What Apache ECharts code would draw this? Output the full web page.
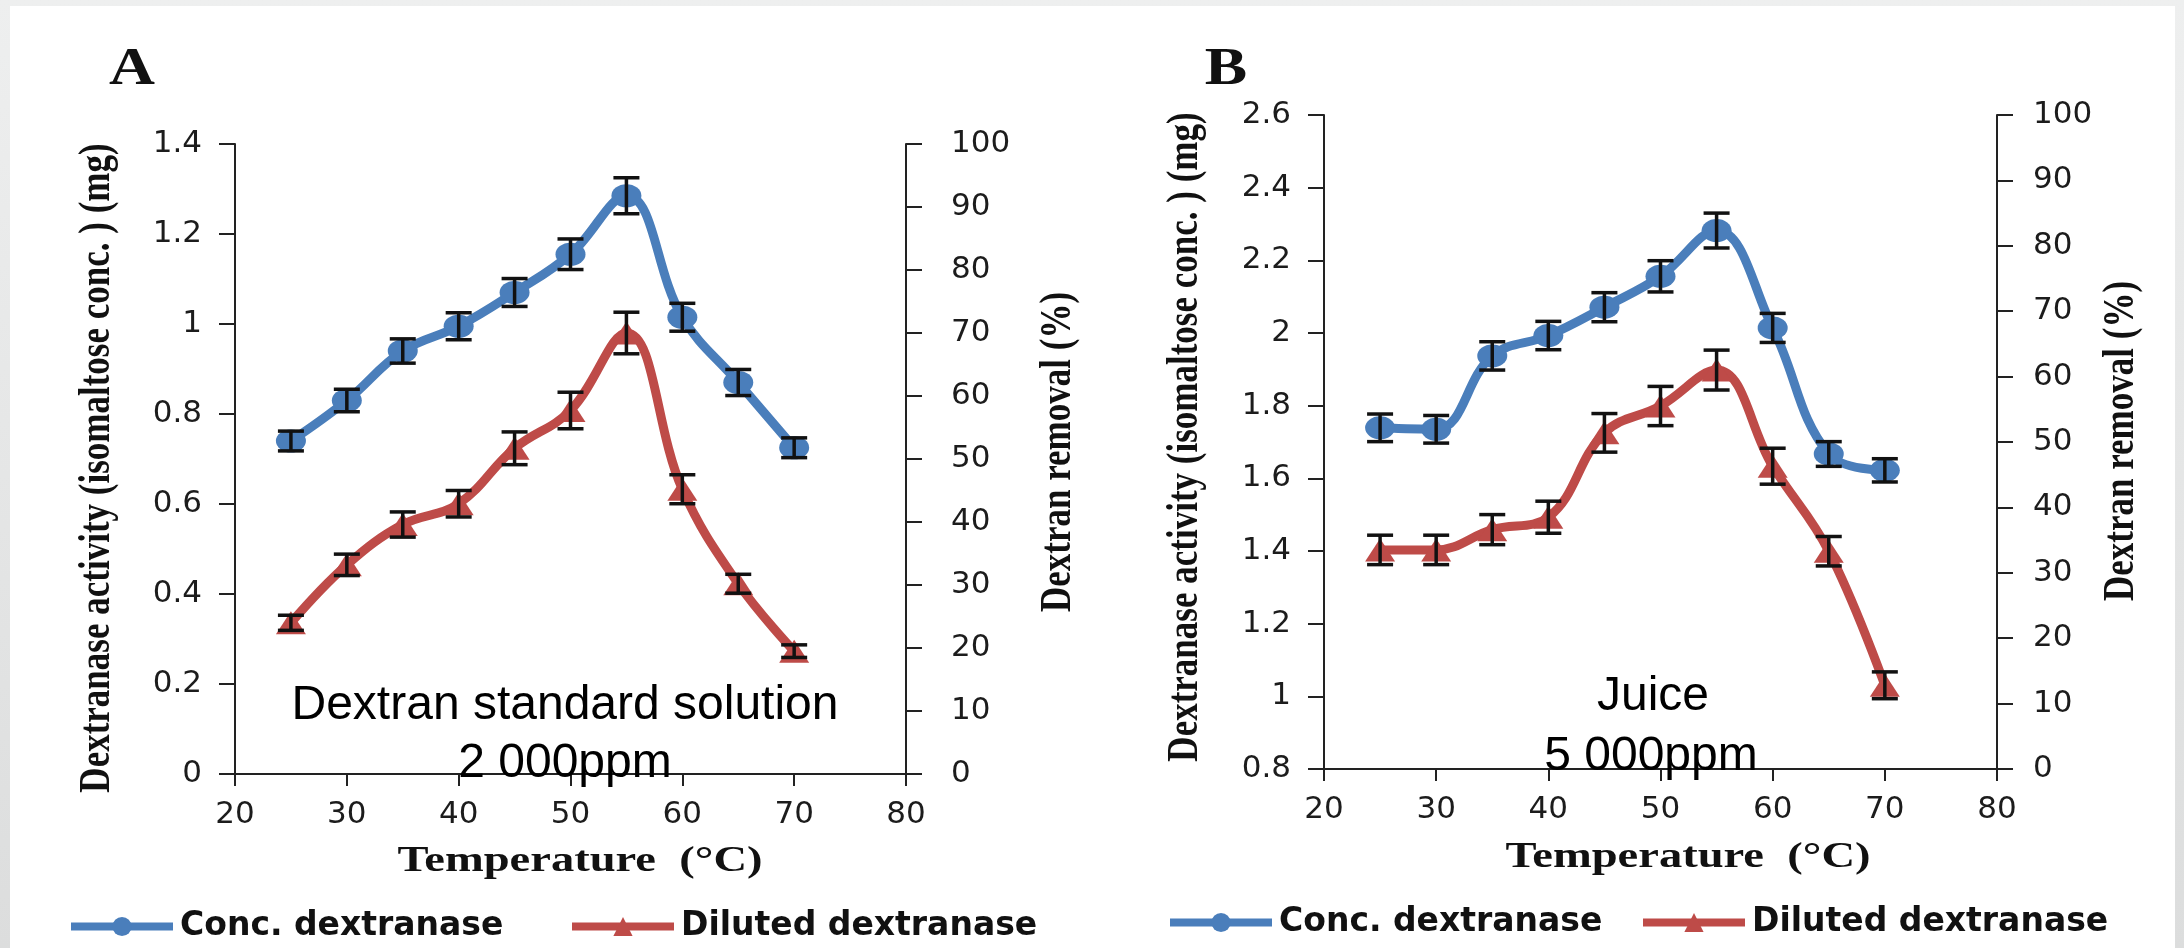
<!DOCTYPE html>
<html>
<head>
<meta charset="utf-8">
<script src="https://cdn.jsdelivr.net/npm/echarts@6/dist/echarts.min.js"></script>
<style>
html,body{margin:0;padding:0;}
body{width:2184px;height:948px;background:linear-gradient(#eeefef,#dcdddd);position:relative;overflow:hidden;}
#panel{position:absolute;left:10px;top:6px;width:2165px;height:942px;background:#fff;}
#chart{position:absolute;left:0;top:0;width:2184px;height:948px;}
</style>
</head>
<body>
<div id="panel"></div>
<div id="chart"></div>
<script>
// ---------- data ----------
const temperatures = [25, 30, 35, 40, 45, 50, 55, 60, 65, 70];

// Panel A: Dextran standard solution 2 000ppm
const concA = [0.74, 0.83, 0.94, 0.995, 1.07, 1.155, 1.285, 1.015, 0.87, 0.725];
const concAErr = [0.022, 0.025, 0.027, 0.030, 0.031, 0.034, 0.040, 0.031, 0.029, 0.022];
const dilA = [24.0, 33.2, 39.6, 42.9, 51.7, 57.7, 70.0, 45.2, 30.2, 19.5];
const dilAErr = [1.2, 1.7, 2.0, 2.1, 2.6, 2.9, 3.3, 2.3, 1.5, 1.0];

// Panel B: Juice 5 000ppm
const concB = [1.739, 1.735, 1.937, 1.993, 2.071, 2.156, 2.282, 2.014, 1.667, 1.622];
const concBErr = [0.038, 0.038, 0.039, 0.039, 0.040, 0.043, 0.048, 0.040, 0.034, 0.032];
const dilB = [33.5, 33.5, 36.6, 38.5, 51.4, 55.5, 61.0, 46.3, 33.3, 12.8];
const dilBErr = [2.25, 2.25, 2.3, 2.45, 2.95, 3.0, 3.05, 2.75, 2.25, 2.05];

const xTicks = [20, 30, 40, 50, 60, 70, 80];
const leftTicksA = [0, 0.2, 0.4, 0.6, 0.8, 1, 1.2, 1.4];
const leftTicksB = [0.8, 1, 1.2, 1.4, 1.6, 1.8, 2, 2.2, 2.4, 2.6];
const rightTicks = [0, 10, 20, 30, 40, 50, 60, 70, 80, 90, 100];

const seriesNames = ['Conc. dextranase', 'Diluted dextranase'];
const panelLetters = ['A', 'B'];
const annotationA = ['Dextran standard solution', '2 000ppm'];
const annotationB = ['Juice', '5 000ppm'];
const xTitle = 'Temperature  (°C)';
const leftTitle = 'Dextranase activity (isomaltose conc. ) (mg)';
const rightTitle = 'Dextran removal (%)';

// ---------- styles ----------
const BLUE = '#4a7ebb';
const RED = '#be4b48';
const AXIS = '#222';

function pairs(xs, ys) { return xs.map((x, i) => [x, ys[i]]); }
function errRows(xs, ys, es) { return xs.map((x, i) => [x, ys[i] - es[i], ys[i] + es[i]]); }

function valueAxisX(gridIndex) {
  return {
    type: 'value', gridIndex: gridIndex,
    min: xTicks[0], max: xTicks[xTicks.length - 1], interval: xTicks[1] - xTicks[0],
    axisLine: { show: true, onZero: false, lineStyle: { color: AXIS, width: 2 } },
    axisTick: { show: true, length: 12, lineStyle: { color: AXIS, width: 2 } },
    axisLabel: { margin: 25, fontFamily: 'DejaVu Sans', fontSize: 31, color: '#1c1c1c' },
    splitLine: { show: false }
  };
}
function valueAxisY(gridIndex, ticks, position, margin) {
  return {
    type: 'value', gridIndex: gridIndex, position: position,
    min: ticks[0], max: ticks[ticks.length - 1],
    interval: +(ticks[1] - ticks[0]).toFixed(6),
    axisLine: { show: true, onZero: false, lineStyle: { color: AXIS, width: 2 } },
    axisTick: { show: true, length: 16, lineStyle: { color: AXIS, width: 2 } },
    axisLabel: { margin: margin, fontFamily: 'DejaVu Sans', fontSize: 31, color: '#1c1c1c' },
    splitLine: { show: false }
  };
}

function lineSeries(name, data, color, symbol, xi, yi) {
  return {
    type: 'line', name: name, data: data,
    xAxisIndex: xi, yAxisIndex: yi,
    smooth: 0.4,
    symbol: symbol, symbolSize: [30, 23],
    lineStyle: { color: color, width: 9 },
    itemStyle: { color: color },
    z: 2, silent: true, emphasis: { disabled: true }
  };
}
function errSeries(data, xi, yi) {
  return {
    type: 'custom', data: data, xAxisIndex: xi, yAxisIndex: yi,
    encode: { x: 0, y: [1, 2] }, z: 3, silent: true,
    renderItem: function (params, api) {
      const x = api.value(0);
      const lo = api.coord([x, api.value(1)]);
      const hi = api.coord([x, api.value(2)]);
      const w = 13;
      const st = { stroke: '#111', lineWidth: 3.5 };
      return {
        type: 'group',
        children: [
          { type: 'line', shape: { x1: lo[0], y1: lo[1], x2: hi[0], y2: hi[1] }, style: st },
          { type: 'line', shape: { x1: hi[0] - w, y1: hi[1], x2: hi[0] + w, y2: hi[1] }, style: st },
          { type: 'line', shape: { x1: lo[0] - w, y1: lo[1], x2: lo[0] + w, y2: lo[1] }, style: st }
        ]
      };
    }
  };
}

function txt(x, y, text, font, opts) {
  const o = opts || {};
  return {
    type: 'text', x: x, y: y,
    rotation: o.rotation || 0, scaleX: o.scaleX || 1, scaleY: o.scaleY || 1,
    silent: true, z: 10,
    style: { text: text, font: font, fill: o.fill || '#111', align: 'center', verticalAlign: 'middle' }
  };
}

const serifBold = 'bold 35px "Liberation Serif", "Times New Roman", serif';
const annFont = '48px "Liberation Sans", Arial, sans-serif';

const legendBase = {
  orient: 'horizontal', itemWidth: 102, itemHeight: 24, itemGap: 0, padding: 0,
  selectedMode: false,
  lineStyle: { width: 8 },
  textStyle: { fontFamily: 'DejaVu Sans', fontWeight: 'bold', fontSize: 33, color: '#111', padding: [0, 0, 0, 2] }
};

const option = {
  animation: false,
  backgroundColor: 'transparent',
  grid: [
    { left: 235, top: 144, width: 671, height: 630 },
    { left: 1324, top: 115, width: 673, height: 654 }
  ],
  xAxis: [valueAxisX(0), valueAxisX(1)],
  yAxis: [
    valueAxisY(0, leftTicksA, 'left', 33),
    valueAxisY(0, rightTicks, 'right', 45),
    valueAxisY(1, leftTicksB, 'left', 33),
    valueAxisY(1, rightTicks, 'right', 36)
  ],
  legend: [
    Object.assign({}, legendBase, { data: [seriesNames[0]], left: 67, top: 910 }),
    Object.assign({}, legendBase, { data: [seriesNames[1]], left: 568, top: 910 }),
    Object.assign({}, legendBase, { data: [seriesNames[0]], left: 1166, top: 906 }),
    Object.assign({}, legendBase, { data: [seriesNames[1]], left: 1639, top: 906 })
  ],
  series: [
    lineSeries(seriesNames[0], pairs(temperatures, concA), BLUE, 'circle', 0, 0),
    lineSeries(seriesNames[1], pairs(temperatures, dilA), RED, 'triangle', 0, 1),
    errSeries(errRows(temperatures, concA, concAErr), 0, 0),
    errSeries(errRows(temperatures, dilA, dilAErr), 0, 1),
    lineSeries(seriesNames[0], pairs(temperatures, concB), BLUE, 'circle', 1, 2),
    lineSeries(seriesNames[1], pairs(temperatures, dilB), RED, 'triangle', 1, 3),
    errSeries(errRows(temperatures, concB, concBErr), 1, 2),
    errSeries(errRows(temperatures, dilB, dilBErr), 1, 3)
  ],
  graphic: [
    txt(132, 70, panelLetters[0], 'bold 53px "Liberation Serif", serif', { scaleX: 1.2 }),
    txt(1226, 70, panelLetters[1], 'bold 53px "Liberation Serif", serif', { scaleX: 1.2 }),
    txt(580, 862, xTitle, serifBold, { scaleX: 1.33 }),
    txt(1688, 858, xTitle, serifBold, { scaleX: 1.33 }),
    txt(98, 468, leftTitle, serifBold, { rotation: Math.PI / 2, scaleY: 1.25 }),
    txt(1059, 452, rightTitle, serifBold, { rotation: Math.PI / 2, scaleY: 1.25 }),
    txt(1186, 437, leftTitle, serifBold, { rotation: Math.PI / 2, scaleY: 1.25 }),
    txt(2122, 441, rightTitle, serifBold, { rotation: Math.PI / 2, scaleY: 1.25 }),
    txt(565, 706, annotationA[0], annFont, { fill: '#000' }),
    txt(565, 764, annotationA[1], annFont, { fill: '#000' }),
    txt(1653, 697, annotationB[0], annFont, { fill: '#000' }),
    txt(1651, 757, annotationB[1], annFont, { fill: '#000' })
  ]
};

const chart = echarts.init(document.getElementById('chart'), null, { renderer: 'canvas', width: 2184, height: 948 });
chart.setOption(option);
</script>
</body>
</html>
